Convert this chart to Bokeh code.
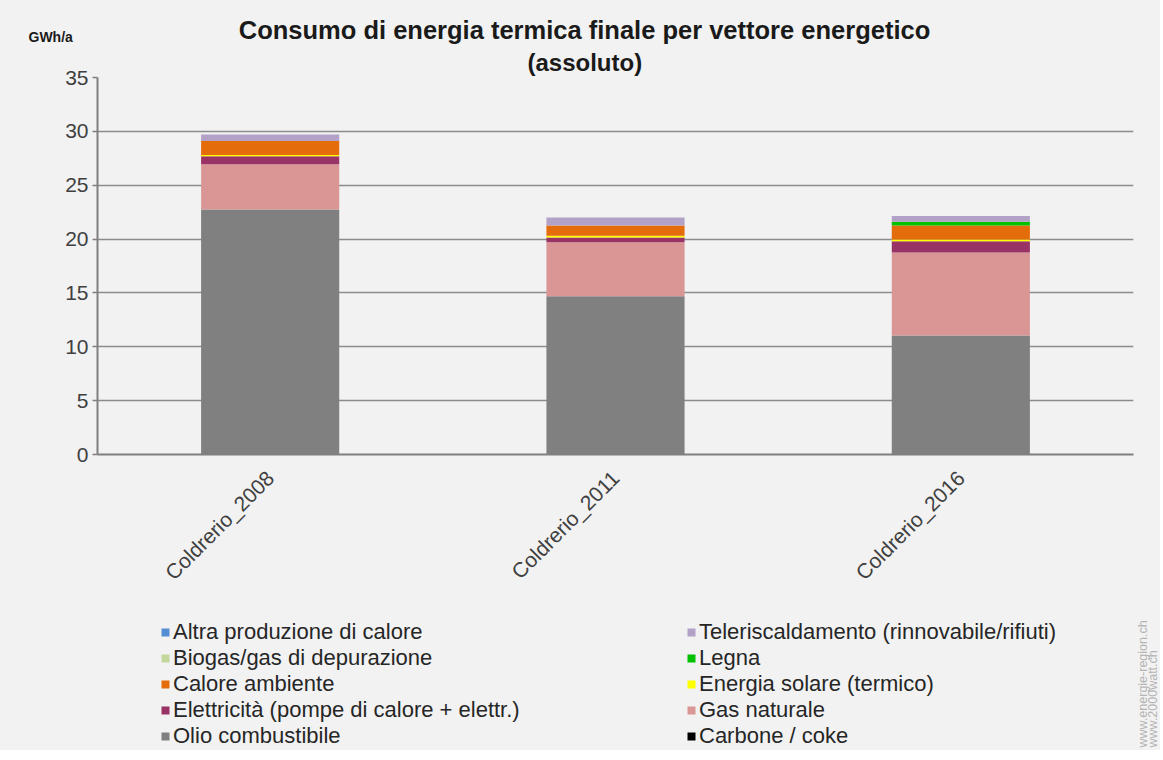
import math
from bokeh.plotting import figure
from bokeh.layouts import column
from bokeh.models import (Range1d, FactorRange, Legend, LegendItem, Label, Title,
                          FixedTicker, ColumnDataSource)
from bokeh.embed import file_html
from bokeh.resources import INLINE

# ---------------- data ----------------
categories = ["Coldrerio_2008", "Coldrerio_2011", "Coldrerio_2016"]
carbone = [0.0, 0.0, 0.0]
olio = [22.75, 14.7, 11.05]
gas = [4.2, 5.0, 7.7]
elettricita = [0.75, 0.45, 1.05]
solare = [0.1, 0.15, 0.15]
calore_amb = [1.3, 0.95, 1.3]
biogas = [0.0, 0.0, 0.0]
legna = [0.0, 0.0, 0.35]
teleriscaldamento = [0.6, 0.75, 0.55]
altra = [0.0, 0.0, 0.0]
y_ticks = [0, 5, 10, 15, 20, 25, 30, 35]

series_keys = ["carbone", "olio", "gas", "elettricita", "solare",
               "calore_amb", "biogas", "legna", "teleriscaldamento", "altra"]
series_labels = {
    "carbone": "Carbone / coke",
    "olio": "Olio combustibile",
    "gas": "Gas naturale",
    "elettricita": "Elettricità (pompe di calore + elettr.)",
    "solare": "Energia solare (termico)",
    "calore_amb": "Calore ambiente",
    "biogas": "Biogas/gas di depurazione",
    "legna": "Legna",
    "teleriscaldamento": "Teleriscaldamento (rinnovabile/rifiuti)",
    "altra": "Altra produzione di calore",
}
series_colors = {
    "carbone": "#000000",
    "olio": "#808080",
    "gas": "#d99694",
    "elettricita": "#993366",
    "solare": "#ffff00",
    "calore_amb": "#e46c0a",
    "biogas": "#c3d69b",
    "legna": "#00c000",
    "teleriscaldamento": "#b3a2c7",
    "altra": "#558ed5",
}

src = ColumnDataSource(dict(
    cat=categories, carbone=carbone, olio=olio, gas=gas, elettricita=elettricita,
    solare=solare, calore_amb=calore_amb, biogas=biogas, legna=legna,
    teleriscaldamento=teleriscaldamento, altra=altra))

FONT = "Liberation Sans"
BG = "#f2f2f2"
W = 1160
HEADER_H = 44
MAIN_H = 556
FOOTER_H = 150


def blank_fig(h):
    f = figure(width=W, height=h, output_backend="svg", toolbar_location=None,
               x_axis_location=None, y_axis_location=None, min_border=0,
               x_range=FactorRange(*categories), y_range=Range1d(0, 1))
    f.frame_align = False
    f.background_fill_color = BG
    f.border_fill_color = BG
    f.outline_line_color = None
    f.grid.grid_line_color = None
    return f


# ---------------- header (title line 1 + unit) ----------------
header = blank_fig(HEADER_H)
header.add_layout(Label(x=584, y=HEADER_H - 29, x_units="screen", y_units="screen",
                        text="Consumo di energia termica finale per vettore energetico",
                        text_font=FONT, text_font_size="25.5px", text_font_style="bold",
                        text_color="#1a1a1a", text_align="center", text_baseline="middle"))
header.add_layout(Label(x=28, y=HEADER_H - 36, x_units="screen", y_units="screen",
                        text="GWh/a",
                        text_font=FONT, text_font_size="14px", text_font_style="bold",
                        text_color="#1a1a1a", text_align="left", text_baseline="middle"))

# ---------------- main chart ----------------
p = figure(width=W, height=MAIN_H, x_range=FactorRange(*categories, range_padding=0),
           y_range=Range1d(0, 35), output_backend="svg", toolbar_location=None,
           min_border_left=97, min_border_right=W - 1133, min_border_top=77 - HEADER_H,
           min_border_bottom=HEADER_H + MAIN_H - 454)
p.frame_align = False
p.background_fill_color = BG
p.border_fill_color = BG
p.outline_line_color = None

p.title = Title(text="(assoluto)", align="left", offset=430, vertical_align="top",
                text_font=FONT, text_font_size="24px", text_font_style="bold",
                text_color="#1a1a1a", standoff=0)

p.vbar_stack(series_keys, x="cat", width=0.4, source=src,
             color=[series_colors[k] for k in series_keys], line_color=None)

p.yaxis.ticker = FixedTicker(ticks=y_ticks)
p.yaxis.axis_line_color = "#7f7f7f"
p.yaxis.axis_line_width = 2
p.yaxis.major_tick_line_color = "#7f7f7f"
p.yaxis.major_tick_line_width = 1.5
p.yaxis.major_tick_out = 5
p.yaxis.major_tick_in = 0
p.yaxis.minor_tick_line_color = None
p.yaxis.major_label_text_font = FONT
p.yaxis.major_label_text_font_size = "21px"
p.yaxis.major_label_text_color = "#404040"
p.yaxis.major_label_standoff = 4

p.xaxis.axis_line_color = "#7f7f7f"
p.xaxis.axis_line_width = 2
p.xaxis.major_tick_line_color = None
p.xaxis.minor_tick_line_color = None
p.xaxis.major_label_orientation = math.pi / 4
p.xaxis.major_label_text_font = FONT
p.xaxis.major_label_text_font_size = "21px"
p.xaxis.major_label_text_color = "#404040"
p.xaxis.major_label_standoff = 14

p.xgrid.grid_line_color = None
p.ygrid.grid_line_color = "#8c8c8c"
p.ygrid.grid_line_width = 1.5

# ---------------- footer (legend + watermark) ----------------
footer = blank_fig(FOOTER_H)
legend_renderers = footer.vbar_stack(series_keys, x="cat", width=0.4, source=src,
                                     color=[series_colors[k] for k in series_keys],
                                     line_color=None, visible=False)
rmap = dict(zip(series_keys, legend_renderers))

col1 = ["altra", "biogas", "calore_amb", "elettricita", "olio"]
col2 = ["teleriscaldamento", "legna", "solare", "gas", "carbone"]


def make_legend(keys, x, y):
    lg = Legend(items=[LegendItem(label=series_labels[k], renderers=[rmap[k]]) for k in keys],
                location=(x, y), orientation="vertical")
    lg.padding = 0
    lg.margin = 0
    lg.spacing = 0
    lg.border_line_color = None
    lg.background_fill_alpha = 0
    lg.glyph_width = 10
    lg.glyph_height = 10
    lg.label_height = 26
    lg.label_standoff = 3
    lg.label_text_font = FONT
    lg.label_text_font_size = "22px"
    lg.label_text_color = "#262626"
    lg.label_text_baseline = "middle"
    return lg


footer.add_layout(make_legend(col1, 160, 1))
footer.add_layout(make_legend(col2, 686, 1))

footer.add_layout(Label(x=1142, y=3, x_units="screen", y_units="screen",
                        text="www.energie-region.ch", angle=math.pi / 2,
                        text_font=FONT, text_font_size="12.5px", text_color="#b4b4b4",
                        text_align="left", text_baseline="middle"))
footer.add_layout(Label(x=1152, y=3, x_units="screen", y_units="screen",
                        text="www.2000watt.ch", angle=math.pi / 2,
                        text_font=FONT, text_font_size="12.5px", text_color="#b4b4b4",
                        text_align="left", text_baseline="middle"))

layout = column(header, p, footer, spacing=0, styles={"background-color": BG})
open("out.html", "w").write(file_html(layout, INLINE))
